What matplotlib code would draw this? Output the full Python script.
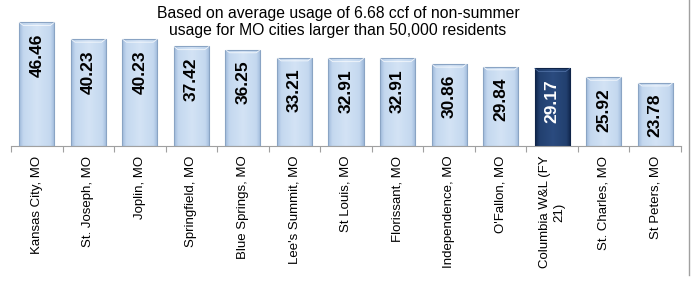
import numpy as np
import matplotlib
matplotlib.use("Agg")
import matplotlib.pyplot as plt
from matplotlib.colors import LinearSegmentedColormap
from matplotlib.lines import Line2D

plt.rcParams['font.family'] = ['Liberation Sans', 'DejaVu Sans']

cities = ["Kansas City, MO", "St. Joseph, MO", "Joplin, MO", "Springfield, MO",
          "Blue Springs, MO", "Lee's Summit, MO", "St Louis, MO", "Florissant, MO",
          "Independence, MO", "O'Fallon, MO", "Columbia W&L (FY\n21)",
          "St. Charles, MO", "St Peters, MO"]
bills = [46.46, 40.23, 40.23, 37.42, 36.25, 33.21, 32.91, 32.91,
         30.86, 29.84, 29.17, 25.92, 23.78]
highlight = "Columbia W&L (FY\n21)"

subtitle = ("Based on average usage of 6.68 ccf of non-summer\n"
            "usage for MO cities larger than 50,000 residents")

W, H = 696, 281
fig = plt.figure(figsize=(W / 100, H / 100), dpi=100)
ax = fig.add_axes([11 / W, (H - 146) / H, 670 / W, 133 / H])

light = LinearSegmentedColormap.from_list(
    "light", [(0, "#9fbadb"), (0.12, "#c4d8ef"), (0.5, "#d3e3f5"), (0.88, "#c4d8ef"), (1, "#9fbadb")])
dark = LinearSegmentedColormap.from_list(
    "dark", [(0, "#10254a"), (0.12, "#22406f"), (0.5, "#2b4b7f"), (0.88, "#22406f"), (1, "#10254a")])

x = np.arange(len(cities))
bars = ax.bar(x, bills, width=0.68, color="none", edgecolor="#8aa4c4", linewidth=0.8, zorder=3)

grad = np.linspace(0, 1, 64).reshape(1, -1)
for b, name, v in zip(bars, cities, bills):
    cm = dark if name == highlight else light
    x0, w = b.get_x(), b.get_width()
    im = ax.imshow(grad, cmap=cm, aspect="auto", extent=[x0, x0 + w, 0, v],
                   origin="lower", zorder=2, interpolation="bilinear")
    im.set_clip_path(b)
    # bevel on top
    ax.plot([x0, x0 + w * 0.12, x0 + w * 0.88, x0 + w], [v, v - 1.2, v - 1.2, v],
            color="white" if name != highlight else "#5a7bb0", lw=0.6, alpha=0.8, zorder=4)
    if name == highlight:
        b.set_edgecolor("#0f2448")
    tc = "white" if name == highlight else "black"
    ax.annotate(f"{v:.2f}", (b.get_x() + w / 2, v), xytext=(0, -8),
                textcoords="offset points", rotation=90, ha="center", va="top",
                fontsize=12.5, fontweight="bold", color=tc, zorder=5)

ax.set_xlim(-0.5, len(cities) - 0.5)
ax.set_ylim(0, 50)
ax.set_xticks(np.arange(len(cities) + 1) - 0.5)
ax.set_xticklabels([])
ax.tick_params(axis="x", which="major", length=4, color="#a0a0a0", direction="out")
ax.set_xticks(x, minor=True)
ax.set_xticklabels(cities, minor=True, rotation=90, fontsize=9.5, va="top",
                   ha="center", multialignment="center")
ax.tick_params(axis="x", which="minor", length=0, pad=7)
ax.set_yticks([])
for s in ["top", "left", "right"]:
    ax.spines[s].set_visible(False)
ax.spines["bottom"].set_color("#a0a0a0")
ax.patch.set_alpha(0)

fig.text(338 / W, 1 - 22 / H, subtitle, ha="center", va="center", fontsize=11.3,
         linespacing=1.2)
fig.add_artist(Line2D([689 / W, 689 / W], [1 - 275 / H, 1], color="#a0a0a0", lw=1,
                      transform=fig.transFigure))

fig.savefig("out.png", dpi=100)
